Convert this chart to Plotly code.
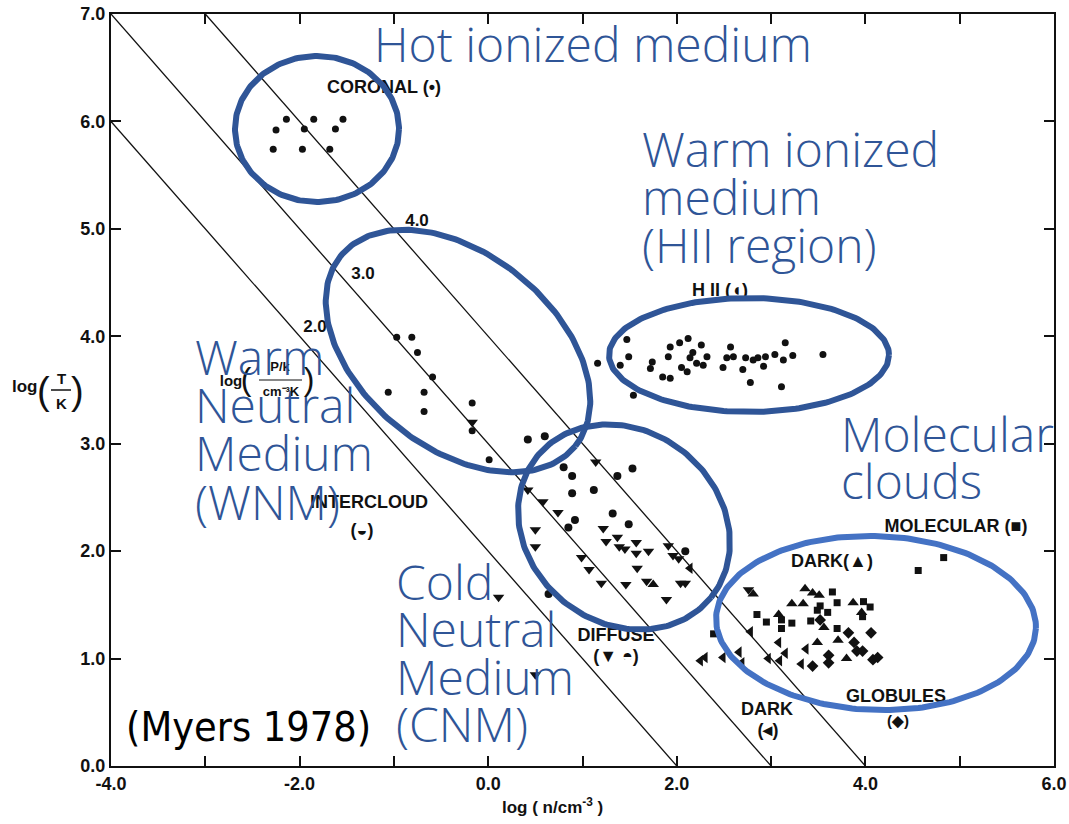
import numpy as np
import plotly.graph_objects as go

# ---------------------------------------------------------------------------
# Figure geometry
# ---------------------------------------------------------------------------
W, H = 1069, 824
ML, MR, MT, MB = 111, 15, 14, 58
X_RANGE = (-4.0, 6.0)
Y_RANGE = (0.0, 7.0)
PX_X = (W - ML - MR) / (X_RANGE[1] - X_RANGE[0])   # pixels per unit of log n
PX_Y = (H - MT - MB) / (Y_RANGE[1] - Y_RANGE[0])   # pixels per unit of log T


def px_to_data(px, py):
    return X_RANGE[0] + (px - ML) / PX_X, Y_RANGE[0] + (H - MB - py) / PX_Y


def px_to_paper(px, py):
    return (px - ML) / (W - ML - MR), (H - MB - py) / (H - MT - MB)


# ---------------------------------------------------------------------------
# Data: log n [cm^-3] and log T [K] per interstellar component
# ---------------------------------------------------------------------------
coronal_logn = [-2.14, -1.85, -1.54, -2.25, -1.95, -1.62, -2.28, -1.97, -1.68]
coronal_logt = [6.02, 6.02, 6.02, 5.92, 5.93, 5.93, 5.74, 5.74, 5.74]

intercloud_logn = [-0.97, -0.81, -0.75, -0.59, -1.06, -0.68, -0.68, -0.17, -0.17, 0.01]
intercloud_logt = [3.99, 3.99, 3.85, 3.62, 3.48, 3.48, 3.30, 3.38, 3.12, 2.85]

hii_logn = [1.16, 1.40, 1.47, 1.49, 1.54, 1.72, 1.74, 1.85, 1.93, 1.91, 1.93, 2.03,
            2.12, 2.05, 2.11, 2.14, 2.17, 2.21, 2.26, 2.28, 2.32, 2.49, 2.53, 2.57,
            2.60, 2.70, 2.73, 2.78, 2.81, 2.86, 2.92, 2.94, 3.04, 3.13, 3.15, 3.11,
            3.23, 3.55]
hii_logt = [3.75, 3.73, 3.97, 3.81, 3.45, 3.70, 3.76, 3.62, 3.61, 3.81, 3.90, 3.94,
            3.98, 3.71, 3.67, 3.80, 3.85, 3.75, 3.92, 3.73, 3.81, 3.71, 3.80, 3.90,
            3.81, 3.69, 3.80, 3.57, 3.78, 3.80, 3.72, 3.81, 3.83, 3.78, 3.94, 3.53,
            3.82, 3.83]

diffuse_tri_logn = [1.14, 0.42, 0.58, 0.74, 0.50, 0.50, 0.99, 1.07, 1.20, 1.46, 1.22,
                    1.37, 1.25, 1.39, 1.45, 1.57, 1.57, 1.70, 1.58, 1.68, 1.89, 1.91,
                    1.96, 2.02, 2.04, 2.09, 0.11, 0.50, -0.17, 2.76]
diffuse_tri_logt = [2.83, 2.57, 2.46, 2.36, 2.20, 2.04, 1.94, 1.83, 1.70, 1.69, 2.21,
                    2.13, 2.09, 2.04, 2.02, 2.08, 1.98, 2.00, 1.84, 1.72, 1.55, 2.05,
                    1.96, 1.93, 1.70, 1.70, 1.57, 0.85, 3.20, 1.64]

diffuse_dome_logn = [0.42, 0.60, 0.80, 0.89, 0.89, 1.12, 0.92, 0.85, 1.32, 1.49,
                     1.37, 1.53, 2.09, 0.64]
diffuse_dome_logt = [3.04, 3.07, 2.78, 2.70, 2.54, 2.57, 2.29, 2.22, 2.35, 2.25,
                     2.70, 2.77, 2.00, 1.60]

dark_up_logn = [3.36, 3.44, 3.51, 3.22, 3.34, 3.87, 3.08, 3.56, 3.49, 3.71, 3.80,
                2.81, 3.96, 1.75]
dark_up_logt = [1.65, 1.61, 1.59, 1.51, 1.51, 1.52, 1.41, 1.29, 1.15, 1.17, 1.00,
                1.60, 1.43, 1.69]

dark_left_logn = [3.08, 3.15, 3.37, 2.66, 2.49, 2.69, 2.97, 3.09, 3.32, 2.30, 2.25,
                  2.14, 2.78]
dark_left_logt = [1.15, 1.05, 1.09, 1.06, 1.01, 0.96, 1.00, 0.98, 0.95, 1.01, 0.98,
                  1.84, 1.25]

molecular_logn = [4.83, 4.56, 2.85, 2.95, 3.11, 3.11, 3.22, 3.42, 3.52, 3.65, 3.70,
                  3.60, 3.98, 4.05, 3.97, 3.70, 2.39, 3.49]
molecular_logt = [1.94, 1.82, 1.41, 1.34, 1.36, 1.28, 1.33, 1.35, 1.49, 1.62, 1.52,
                  1.43, 1.53, 1.48, 1.39, 1.28, 1.23, 1.45]

globule_logn = [3.44, 3.61, 3.61, 3.82, 3.88, 3.91, 3.97, 4.06, 4.08, 4.13, 3.52]
globule_logt = [0.93, 1.03, 0.96, 1.24, 1.15, 1.07, 1.07, 1.24, 0.99, 1.01, 1.36]

# Lines of constant log(P/k) = log n + log T
pressure_levels = [2.0, 3.0, 4.0]

x_tick_values = [-4, -3, -2, -1, 0, 1, 2, 3, 4, 5, 6]
x_tick_labels = ["-4.0", " ", "-2.0", " ", "0.0", " ", "2.0", " ", "4.0", " ", "6.0"]
y_tick_values = [0, 1, 2, 3, 4, 5, 6, 7]
y_tick_labels = ["0.0", "1.0", "2.0", "3.0", "4.0", "5.0", "6.0", "7.0"]

# ---------------------------------------------------------------------------
# Styling
# ---------------------------------------------------------------------------
INK = "#111111"
DARK_BLUE = "#2F5597"
LIGHT_BLUE = "#4472C4"
LABEL_FONT = "Liberation Sans, Arial, sans-serif"
BLUE_FONT = "Open Sans, Noto Sans, sans-serif"

fig = go.Figure()

# constant-pressure lines
for p in pressure_levels:
    x0 = max(X_RANGE[0], p - Y_RANGE[1])
    x1 = min(X_RANGE[1], p - Y_RANGE[0])
    xs = np.array([x0, x1])
    fig.add_trace(go.Scatter(x=xs, y=p - xs, mode="lines",
                             line=dict(color=INK, width=1.3),
                             hoverinfo="skip", showlegend=False))


def add_points(xs, ys, symbol, size):
    fig.add_trace(go.Scatter(x=xs, y=ys, mode="markers",
                             marker=dict(symbol=symbol, size=size, color=INK,
                                         line=dict(width=0)),
                             showlegend=False))


add_points(coronal_logn, coronal_logt, "circle", 7)
add_points(intercloud_logn, intercloud_logt, "circle", 7)
add_points(hii_logn, hii_logt, "circle", 7)
add_points(diffuse_tri_logn, diffuse_tri_logt, "triangle-down", 10)
add_points(diffuse_dome_logn, diffuse_dome_logt, "circle", 8)
add_points(dark_up_logn, dark_up_logt, "triangle-up", 10)
add_points(dark_left_logn, dark_left_logt, "triangle-left", 10)
add_points(molecular_logn, molecular_logt, "square", 7)
add_points(globule_logn, globule_logt, "diamond", 9)


# small black labels inside the plot (pixel anchors converted to data)
def add_label(text, px, py, size=18, bold=True):
    x, y = px_to_data(px, py)
    fig.add_trace(go.Scatter(x=[x], y=[y], mode="text", text=[text],
                             textposition="middle center",
                             textfont=dict(family=LABEL_FONT, size=size, color=INK,
                                           weight="bold" if bold else "normal"),
                             hoverinfo="skip", showlegend=False))


add_label("CORONAL (•)", 384, 88)
label_anchor_px = {2.0: (315, 328), 3.0: (363, 275), 4.0: (417, 222)}
for p in pressure_levels:
    add_label(f"{p:.1f}", *label_anchor_px[p], size=17)
add_label("log", 231, 382, size=15)
add_label("(", 246, 382, size=32, bold=False)
add_label("P/k", 280, 368, size=13)
add_label("cm⁻³K", 281, 393, size=13)
add_label(")", 309, 382, size=32, bold=False)
fx0, fy = px_to_data(259, 380)
fx1, _ = px_to_data(302, 380)
fig.add_trace(go.Scatter(x=[fx0, fx1], y=[fy, fy], mode="lines",
                         line=dict(color=INK, width=1.2), hoverinfo="skip",
                         showlegend=False))
add_label("H II (◖)", 720, 291)
add_label("INTERCLOUD", 369, 503)
add_label("(◒)", 362, 531)
add_label("DIFFUSE", 616, 636)
add_label("(▼ ◓)", 616, 657)
add_label("MOLECULAR (■)", 956, 527)
add_label("DARK(▲)", 832, 562)
add_label("DARK", 767, 710)
add_label("(◂)", 768, 731)
add_label("GLOBULES", 896, 697)
add_label("(◆)", 898, 722, size=15)


# region outlines: centre in pixels, semi-axes in pixels, tilt in degrees (y down)
def add_ellipse(cpx, cpy, a, b, tilt_deg, color):
    t = np.linspace(0, 2 * np.pi, 241)
    th = np.radians(tilt_deg)
    dx = a * np.cos(t) * np.cos(th) - b * np.sin(t) * np.sin(th)
    dy = a * np.cos(t) * np.sin(th) + b * np.sin(t) * np.cos(th)
    xs, ys = px_to_data(cpx + dx, cpy + dy)
    fig.add_trace(go.Scatter(x=xs, y=ys, mode="lines",
                             line=dict(color=color, width=6),
                             hoverinfo="skip", showlegend=False))


add_ellipse(317, 129, 82, 73, 0, DARK_BLUE)        # hot ionized
add_ellipse(458, 351, 151, 97, 39, DARK_BLUE)      # warm neutral
add_ellipse(624, 527, 112, 96, 39, DARK_BLUE)      # cold neutral
add_ellipse(749, 355, 140, 57, 0, DARK_BLUE)       # warm ionized
add_ellipse(876, 623, 160, 87, 2, LIGHT_BLUE)      # molecular clouds

# ---------------------------------------------------------------------------
# Annotations
# ---------------------------------------------------------------------------
annotations = []


def blue_text(lines, left_px, centers_px, size=48):
    for line, cy in zip(lines, centers_px):
        xp, yp = px_to_paper(left_px, cy)
        annotations.append(dict(text=line, x=xp, y=yp, xref="paper", yref="paper",
                                xanchor="left", yanchor="middle", showarrow=False,
                                font=dict(family=BLUE_FONT, size=size, color=DARK_BLUE,
                                          weight=300)))


blue_text(["Hot ionized medium"], 372, [43])
blue_text(["Warm ionized", "medium", "(HII region)"], 640, [148, 196, 245])
blue_text(["Warm", "Neutral", "Medium", "(WNM)"], 193, [356, 405, 453, 501])
blue_text(["Molecular", "clouds"], 839, [433, 480])
blue_text(["Cold", "Neutral", "Medium", "(CNM)"], 394, [581, 628, 676, 723])

xp, yp = px_to_paper(248, 727)
annotations.append(dict(text="(Myers 1978)", x=xp, y=yp, xref="paper", yref="paper",
                        xanchor="center", yanchor="middle", showarrow=False,
                        font=dict(family="Liberation Sans Narrow, DejaVu Sans Condensed, sans-serif",
                                  size=41, color="#000000")))


def axis_text(text, px, py, size, bold=True):
    xp, yp = px_to_paper(px, py)
    annotations.append(dict(text=text, x=xp, y=yp, xref="paper", yref="paper",
                            xanchor="center", yanchor="middle", showarrow=False,
                            font=dict(family=LABEL_FONT, size=size, color=INK,
                                      weight="bold" if bold else "normal")))


# y-axis title: log(T/K)
axis_text("log", 25, 386, 17)
axis_text("(", 43, 391, 38, bold=False)
axis_text("T", 61, 378, 15)
axis_text("K", 61, 403, 15)
axis_text(")", 77, 391, 38, bold=False)
# x-axis title
axis_text("log ( n/cm<sup>-3</sup> )", 552, 806, 17)

lx0, ly = px_to_paper(51, 390)
lx1, _ = px_to_paper(71, 390)

axis_style = dict(ticks="inside", ticklen=10, tickwidth=1.5, tickcolor=INK,
                  showline=True, linecolor=INK, linewidth=2, mirror="ticks",
                  showgrid=False, zeroline=False, automargin=False,
                  tickfont=dict(family=LABEL_FONT, size=18, color=INK, weight="bold"))

fig.update_layout(
    width=W, height=H,
    margin=dict(l=ML, r=MR, t=MT, b=MB),
    paper_bgcolor="white", plot_bgcolor="white",
    showlegend=False,
    annotations=annotations,
    shapes=[dict(type="line", xref="paper", yref="paper", x0=lx0, x1=lx1,
                 y0=ly, y1=ly, line=dict(color=INK, width=1.5))],
    xaxis=dict(range=list(X_RANGE), tickvals=x_tick_values, ticktext=x_tick_labels,
               **axis_style),
    yaxis=dict(range=list(Y_RANGE), tickvals=y_tick_values, ticktext=y_tick_labels,
               **axis_style),
)

fig.write_html("out.html")
